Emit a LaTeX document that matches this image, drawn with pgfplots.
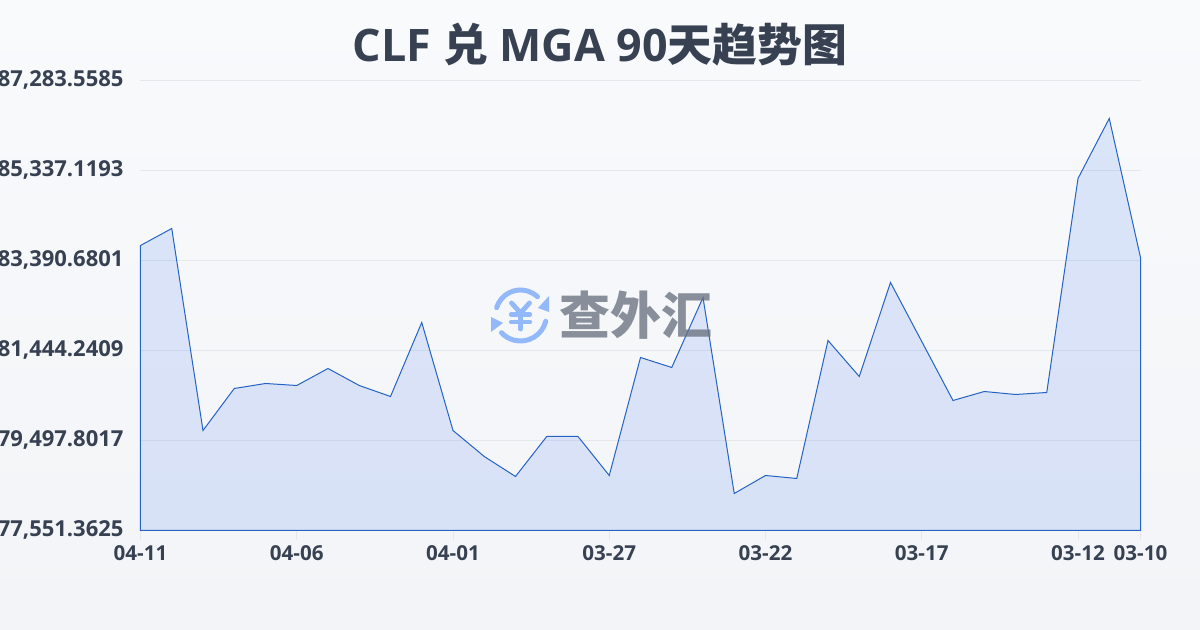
\documentclass[border=0pt]{standalone}
\usepackage{fontspec}
\setmainfont{Open Sans}
\newfontfamily\cjk{Noto Sans CJK SC}
\usepackage{pgfplots}
\pgfplotsset{compat=1.18}
\definecolor{bgtop}{HTML}{F8FAFC}
\definecolor{bgbot}{HTML}{F2F4F7}
\definecolor{txt}{HTML}{374151}
\definecolor{gridc}{HTML}{E5E7EB}
\definecolor{linec}{HTML}{2563C4}
\definecolor{areac}{HTML}{2563EB}
\definecolor{iconc}{HTML}{93B9FB}
\definecolor{wm}{HTML}{6B7280}
\begin{document}
\begin{tikzpicture}
\path[use as bounding box,clip] (0,0) rectangle (600pt,315pt);
\shade[top color=bgtop,bottom color=bgbot] (0,0) rectangle (600pt,315pt);
\begin{axis}[
  at={(70.25pt,49.75pt)},anchor=south west,
  scale only axis,width=500pt,height=225pt,
  xmin=0,xmax=32,ymin=77551.3625,ymax=87283.5585,
  xtick={0,5,10,15,20,25,30,32},
  xticklabels={04-11,04-06,04-01,03-27,03-22,03-17,03-12,03-10},
  ytick={77551.3625,79497.8017,81444.2409,83390.6801,85337.1193,87283.5585},
  scaled y ticks=false,
  /pgf/number format/.cd,fixed,fixed zerofill,precision=4,1000 sep={,},assume math mode=true,
  /pgfplots/.cd,
  yticklabel style={font=\bfseries\fontsize{11}{13}\selectfont,text=txt,xshift=0pt,yshift=0.5pt},
  xticklabel style={font=\bfseries\fontsize{10.3}{13}\selectfont,text=txt,yshift=1pt},
  axis x line*=bottom,axis y line*=left,
  axis line style={draw=none},
  ymajorgrids,grid style={draw=gridc,line width=0.5pt},
  major tick length=5pt,
  tick style={draw=gridc,line width=0.5pt},
  ytick style={draw=none},
  xtick pos=lower,
  tick align=outside,
  clip=false,
]
\addplot[draw=linec,line width=0.5pt,fill=areac,fill opacity=0.13] table[row sep=\\] {
x y\\
0 83715.1\\
1 84082.8\\
2 79714.1\\
3 80622.4\\
4 80730.6\\
5 80687.3\\
6 81054.9\\
7 80687.3\\
8 80449.4\\
9 82049.8\\
10 79714.1\\
11 79151.8\\
12 78719.2\\
13 79584.3\\
14 79584.3\\
15 78740.9\\
16 81292.9\\
17 81076.6\\
18 82590.5\\
19 78351.6\\
20 78740.9\\
21 78676.0\\
22 81660.5\\
23 80881.9\\
24 82914.9\\
25 81638.9\\
26 80362.9\\
27 80557.6\\
28 80492.7\\
29 80535.9\\
30 85164.1\\
31 86461.8\\
32 83455.6\\
} \closedcycle;
\end{axis}
\begin{scope}[x=0.5pt,y=-0.5pt,shift={(0,315pt)}]
\node[text=txt,font=\bfseries\fontsize{22.4}{27}\selectfont,anchor=center] at (600,44.5) {CLF {\cjk 兑} MGA 90{\cjk 天趋势图}};
\begin{scope}[draw=iconc,fill=iconc,line width=2.5pt,line cap=round,line join=round]
\draw (520.5,315) ++(197:25) arc[start angle=197,end angle=313,radius=25];
\draw (520.5,315) ++(14:26) arc[start angle=14,end angle=137,radius=26];
\fill[line width=0] (549,296) -- (549,312) -- (538,308) -- cycle;
\fill[line width=0] (491,317) -- (503,323) -- (491,332) -- cycle;
\draw[line width=2.4pt] (511.5,303) -- (520.5,313) -- (529.5,303);
\draw[line width=2.4pt] (520.5,313) -- (520.5,329);
\draw[line width=2.1pt] (511,314.5) -- (530,314.5);
\draw[line width=2.1pt] (511,322) -- (530,322);
\end{scope}
\node[text=wm,opacity=0.78,font=\cjk\bfseries\fontsize{25.5}{30}\selectfont,anchor=center] at (636,315) {查外汇};
\end{scope}
\end{tikzpicture}
\end{document}
